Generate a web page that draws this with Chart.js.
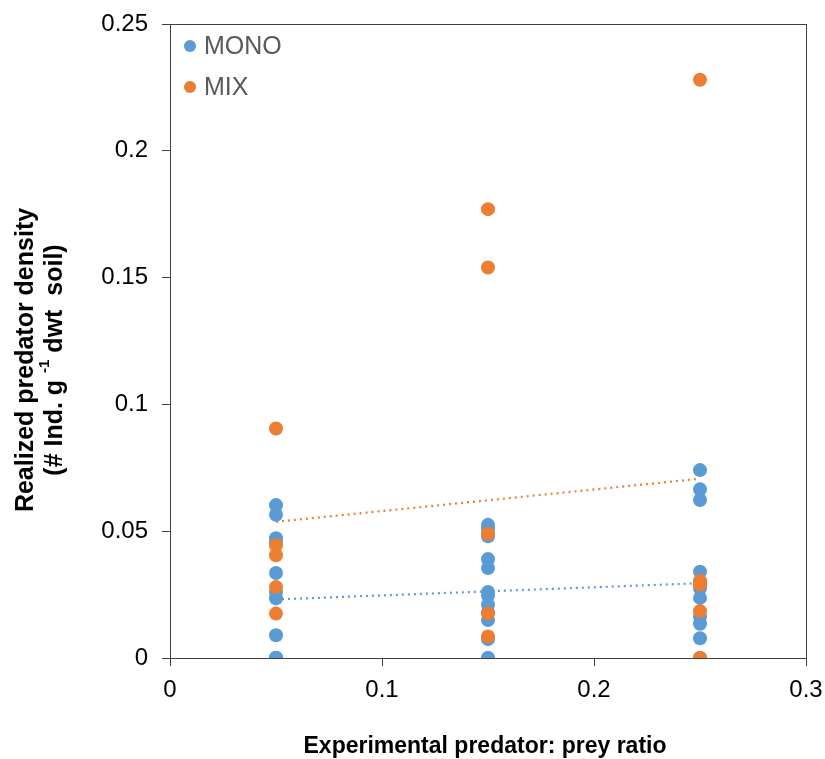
<!DOCTYPE html>
<html>
<head>
<meta charset="utf-8">
<title>Realized predator density</title>
<script src="https://cdn.jsdelivr.net/npm/chart.js@4.4.1/dist/chart.umd.min.js"></script>
<style>
  html, body { margin: 0; padding: 0; background: #fff; }
  #wrap { width: 825px; height: 759px; }
</style>
</head>
<body>
<div id="wrap"><canvas id="predChart" width="825" height="759"></canvas></div>
<script>
// ================= DATA =================
const ratios = [0.05, 0.15, 0.25];

// MONO, one list per predator:prey ratio
const monoAt005 = [0.0603, 0.0565, 0.0472, 0.046, 0.0335, 0.026, 0.0235, 0.009, 0, 0, 0, 0, 0];
const monoAt015 = [0.0525, 0.051, 0.048, 0.039, 0.0355, 0.026, 0.0245, 0.021, 0.018, 0.015, 0.0075, 0, 0];
const monoAt025 = [0.0741, 0.0665, 0.0623, 0.034, 0.030, 0.0276, 0.0237, 0.0163, 0.0135, 0.0078, 0, 0];

// MIX
const mixAt005 = [0.0905, 0.0445, 0.0405, 0.028, 0.0175];
const mixAt015 = [0.177, 0.154, 0.049, 0.0175, 0.0085];
const mixAt025 = [0.228, 0.0305, 0.029, 0.0185, 0];

const xTicks = [0, 0.1, 0.2, 0.3];
const yTicks = [0, 0.05, 0.1, 0.15, 0.2, 0.25];

const BLUE = "#5B9BD5";
const ORANGE = "#ED7D31";
const FONT = "'Liberation Sans', Arial, sans-serif";

function toPoints(groups) {
  const pts = [];
  groups.forEach((vals, i) => {
    vals.forEach(v => pts.push({ x: ratios[i], y: v }));
  });
  return pts;
}

// least squares line, drawn from min x to max x like Excel
function trend(points) {
  const n = points.length;
  let sx = 0, sy = 0;
  points.forEach(p => { sx += p.x; sy += p.y; });
  const mx = sx / n, my = sy / n;
  let sxy = 0, sxx = 0;
  points.forEach(p => { sxy += (p.x - mx) * (p.y - my); sxx += (p.x - mx) * (p.x - mx); });
  const b = sxy / sxx, a = my - b * mx;
  const xs = points.map(p => p.x);
  const lo = Math.min(...xs), hi = Math.max(...xs);
  return [{ x: lo, y: a + b * lo }, { x: hi, y: a + b * hi }];
}

const monoPts = toPoints([monoAt005, monoAt015, monoAt025]);
const mixPts = toPoints([mixAt005, mixAt015, mixAt025]);

// ================= PLUGINS =================
const frame = {
  id: "frame",
  afterDatasetsDraw(chart) {
    const a = chart.chartArea, c = chart.ctx;
    c.save();
    c.strokeStyle = "#404040";
    c.lineWidth = 1;
    c.strokeRect(Math.round(a.left) + 0.5, Math.round(a.top) + 0.5,
      Math.round(a.right - a.left), Math.round(a.bottom - a.top));
    c.restore();
  }
};

const legendAndTitles = {
  id: "legendAndTitles",
  afterDraw(chart) {
    const c = chart.ctx, a = chart.chartArea;
    c.save();

    // legend inside plot
    const items = [["MONO", BLUE, 46], ["MIX", ORANGE, 87]];
    c.font = "25px " + FONT;
    c.textBaseline = "middle";
    c.textAlign = "left";
    items.forEach(([label, col, y]) => {
      c.fillStyle = col;
      c.beginPath();
      c.arc(a.left + 20, y, 6, 0, Math.PI * 2);
      c.fill();
      c.fillStyle = "#595959";
      c.fillText(label, a.left + 34, y + 1);
    });

    // x title
    c.fillStyle = "#000";
    c.font = "bold 23px " + FONT;
    c.textAlign = "center";
    c.fillText("Experimental predator: prey ratio", 485, 747);

    // y title, two rotated lines with a superscript
    c.translate(0, 360);
    c.rotate(-Math.PI / 2);
    c.font = "bold 25px " + FONT;
    c.fillText("Realized predator density", 0, 26);

    const big = "bold 25px " + FONT, small = "bold 15px " + FONT;
    const parts = [["(# Ind. g ", big, 0], ["-1", small, -10], [" dwt  soil)", big, 0]];
    let total = 0;
    parts.forEach(p => { c.font = p[1]; total += c.measureText(p[0]).width; });
    let x = -total / 2;
    c.textAlign = "left";
    parts.forEach(p => {
      c.font = p[1];
      c.fillText(p[0], x, 55 + p[2]);
      x += c.measureText(p[0]).width;
    });
    c.restore();
  }
};

// ================= CHART =================
const ctx = document.getElementById("predChart");

new Chart(ctx, {
  type: "scatter",
  data: {
    datasets: [
      {
        label: "MIX",
        data: mixPts,
        backgroundColor: ORANGE,
        borderColor: ORANGE,
        pointRadius: 7,
        pointBorderWidth: 0,
        order: 0
      },
      {
        label: "MONO",
        data: monoPts,
        backgroundColor: BLUE,
        borderColor: BLUE,
        pointRadius: 7,
        pointBorderWidth: 0,
        order: 1
      },
      {
        label: "MIX trend",
        data: trend(mixPts),
        showLine: true,
        borderColor: ORANGE,
        borderWidth: 2.2,
        borderDash: [2, 4],
        pointRadius: 0,
        order: 2
      },
      {
        label: "MONO trend",
        data: trend(monoPts),
        showLine: true,
        borderColor: BLUE,
        borderWidth: 2.2,
        borderDash: [2, 4],
        pointRadius: 0,
        order: 3
      }
    ]
  },
  options: {
    responsive: false,
    animation: false,
    devicePixelRatio: 1,
    layout: { padding: { top: 24, right: 19, left: 0, bottom: 0 } },
    plugins: {
      legend: { display: false },
      tooltip: { enabled: false }
    },
    scales: {
      x: {
        type: "linear",
        min: 0,
        max: 0.3,
        afterBuildTicks: s => { s.ticks = xTicks.map(v => ({ value: v })); },
        afterFit: s => { s.height = 101; s.paddingLeft = 0; s.paddingRight = 0; },
        grid: { display: true, drawOnChartArea: false, drawTicks: true, tickLength: 8, color: "#404040" },
        border: { display: true, color: "#404040" },
        ticks: {
          color: "#000",
          padding: 10,
          maxRotation: 0,
          font: { family: FONT, size: 24 },
          callback: v => String(v)
        }
      },
      y: {
        type: "linear",
        min: 0,
        max: 0.25,
        afterBuildTicks: s => { s.ticks = yTicks.map(v => ({ value: v })); },
        afterFit: s => { s.width = 170; s.paddingTop = 0; s.paddingBottom = 0; },
        grid: { display: true, drawOnChartArea: false, drawTicks: true, tickLength: 8, color: "#404040" },
        border: { display: true, color: "#404040" },
        ticks: {
          color: "#000",
          padding: 14,
          font: { family: FONT, size: 24 },
          callback: v => String(v)
        }
      }
    }
  },
  plugins: [frame, legendAndTitles]
});
</script>
</body>
</html>
